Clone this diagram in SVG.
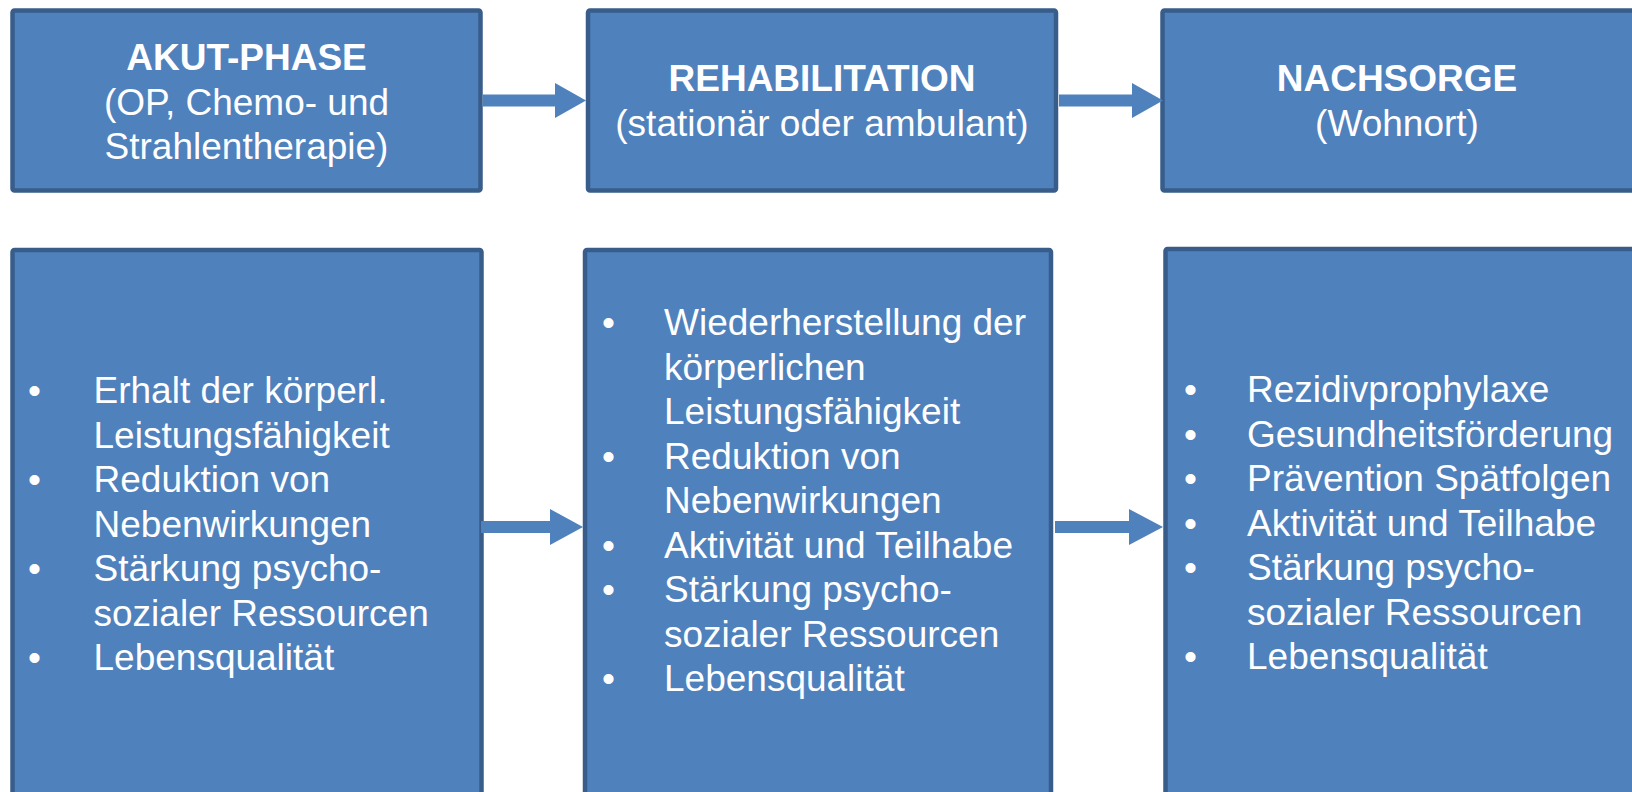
<svg xmlns="http://www.w3.org/2000/svg" width="1632" height="792" viewBox="0 0 1632 792">
<style>
.box{fill:#4F81BD;stroke:#385D8A;stroke-width:4.5}
.t{font-family:"Liberation Sans",Arial,sans-serif;font-size:37px;fill:#FFFFFF}
.h{font-weight:bold}
.c{text-anchor:middle}
.arr{fill:#4F81BD}
</style>
<rect width="1632" height="792" fill="#FFFFFF"/>
<g id="akut">
<rect class="box" x="12.5" y="10.5" width="468" height="180" rx="2"/>
<text class="t c h" x="246.5" y="70">AKUT-PHASE</text>
<text class="t c" x="246.5" y="114.5">(OP, Chemo- und</text>
<text class="t c" x="246.5" y="159">Strahlentherapie)</text>
</g>
<g id="reha">
<rect class="box" x="588" y="10.5" width="468" height="180" rx="2"/>
<text class="t c h" x="822" y="91">REHABILITATION</text>
<text class="t c" x="822" y="135.5">(stationär oder ambulant)</text>
</g>
<g id="nachsorge">
<rect class="box" x="1162.5" y="10.5" width="480" height="180" rx="2"/>
<text class="t c h" x="1397" y="91">NACHSORGE</text>
<text class="t c" x="1397" y="135.5">(Wohnort)</text>
</g>
<g id="akut-ziele">
<rect class="box" x="12.5" y="250" width="469" height="560" rx="2"/>
<g class="t">
<text x="28" y="403">•</text><text x="93.5" y="403">Erhalt der körperl.</text>
<text x="93.5" y="447.5">Leistungsfähigkeit</text>
<text x="28" y="492">•</text><text x="93.5" y="492">Reduktion von</text>
<text x="93.5" y="536.5">Nebenwirkungen</text>
<text x="28" y="581">•</text><text x="93.5" y="581">Stärkung psycho-</text>
<text x="93.5" y="625.5">sozialer Ressourcen</text>
<text x="28" y="670">•</text><text x="93.5" y="670">Lebensqualität</text>
</g>
</g>
<g id="reha-ziele">
<rect class="box" x="585" y="250" width="466" height="560" rx="2"/>
<g class="t">
<text x="602" y="335">•</text><text x="664" y="335">Wiederherstellung der</text>
<text x="664" y="379.5">körperlichen</text>
<text x="664" y="424">Leistungsfähigkeit</text>
<text x="602" y="468.5">•</text><text x="664" y="468.5">Reduktion von</text>
<text x="664" y="513">Nebenwirkungen</text>
<text x="602" y="557.5">•</text><text x="664" y="557.5">Aktivität und Teilhabe</text>
<text x="602" y="602">•</text><text x="664" y="602">Stärkung psycho-</text>
<text x="664" y="646.5">sozialer Ressourcen</text>
<text x="602" y="691">•</text><text x="664" y="691">Lebensqualität</text>
</g>
</g>
<g id="nachsorge-ziele">
<rect class="box" x="1165.5" y="249" width="480" height="560" rx="2"/>
<g class="t">
<text x="1184" y="402">•</text><text x="1247" y="402">Rezidivprophylaxe</text>
<text x="1184" y="446.5">•</text><text x="1247" y="446.5">Gesundheitsförderung</text>
<text x="1184" y="491">•</text><text x="1247" y="491">Prävention Spätfolgen</text>
<text x="1184" y="535.5">•</text><text x="1247" y="535.5">Aktivität und Teilhabe</text>
<text x="1184" y="580">•</text><text x="1247" y="580">Stärkung psycho-</text>
<text x="1247" y="624.5">sozialer Ressourcen</text>
<text x="1184" y="669">•</text><text x="1247" y="669">Lebensqualität</text>
</g>
</g>
<g id="connectors">
<polygon class="arr" points="483,94.5 555,94.5 555,83 586,100.5 555,118 555,106.5 483,106.5"/>
<polygon class="arr" points="1059,94.5 1132,94.5 1132,83 1163,100.5 1132,118 1132,106.5 1059,106.5"/>
<polygon class="arr" points="481,521 550,521 550,509 583,527 550,545 550,533 481,533"/>
<polygon class="arr" points="1055,521 1129,521 1129,509 1163,527 1129,545 1129,533 1055,533"/>
</g>
</svg>
